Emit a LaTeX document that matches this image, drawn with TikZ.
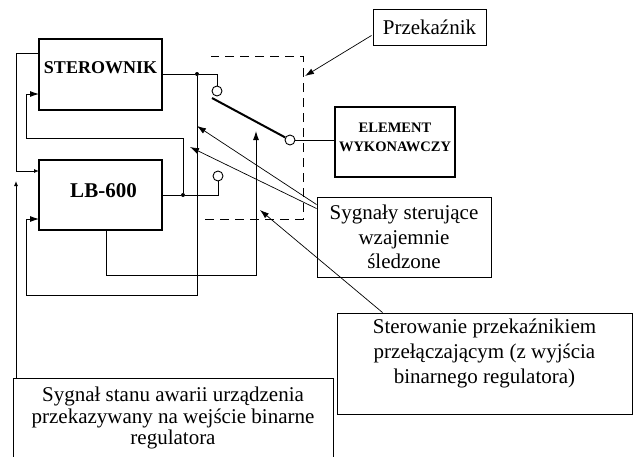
\documentclass[tikz,border=0pt]{standalone}
\usepackage{fontspec}
\usepackage{graphicx}
\setmainfont{Liberation Serif}
\usetikzlibrary{arrows.meta,calc}
\begin{document}
\begin{tikzpicture}[x=1pt,y=-1pt,
  wire/.style={line width=0.9pt},
  callout/.style={line width=0.7pt},
  heavybox/.style={draw, line width=2pt, inner sep=0pt},
  thinbox/.style={draw, line width=0.9pt, inner sep=0pt},
  txt/.style={font=\fontsize{21}{25}\selectfont, align=center, inner sep=0pt},
  contact/.style={circle, draw, line width=0.9pt, minimum size=10pt, inner sep=0pt, fill=white},
  junction/.style={circle, fill, minimum size=4pt, inner sep=0pt},
  tip/.style={-{Latex[length=9pt,width=6pt]}},
  smalltip/.style={-{Latex[length=5pt,width=4pt]}},
  relayline/.style={line width=0.9pt, dash pattern=on 9pt off 6pt},
]
\useasboundingbox (0,0) rectangle (633,456);
\clip (0,0) rectangle (633,456);

% controllers and actuator
\node[heavybox, minimum width=123pt, minimum height=71pt,
  label={[font=\bfseries\fontsize{18}{20}\selectfont, inner sep=0pt, yshift=7pt]center:STEROWNIK}]
  (ster) at (100.5,74.5) {};
\node[heavybox, minimum width=123pt, minimum height=70pt,
  label={[font=\bfseries\fontsize{21}{24}\selectfont, inner sep=0pt, xshift=3pt, yshift=4pt]center:LB-600}]
  (lb) at (100.5,195) {};
\node[heavybox, minimum width=120pt, minimum height=70pt,
  label={[font=\bfseries\fontsize{14.5}{18.5}\selectfont, align=center, inner sep=0pt, yshift=4.5pt]center:ELEMENT\\WYKONAWCZY}]
  (elem) at (395,142) {};

% description boxes
\node[thinbox, minimum width=113pt, minimum height=36pt, txt] (relay) at (429.5,27) {Przekaźnik};
\node[thinbox, minimum width=174pt, minimum height=80pt, txt, font=\fontsize{21}{24.5}\selectfont]
  (sig) at (404,237) {Sygnały sterujące\\wzajemnie\\śledzone};
\node[thinbox, minimum width=295pt, minimum height=101pt,
  label={[txt, yshift=10.5pt]center:Sterowanie przekaźnikiem\\przełączającym (z wyjścia\\binarnego regulatora)}]
  (ctl) at (484.5,363.5) {};
\node[thinbox, minimum width=320pt, minimum height=80pt, anchor=north, txt, font=\fontsize{21}{21.5}\selectfont]
  (alarm) at (173,378) {Sygnał stanu awarii urządzenia\\przekazywany na wejście binarne\\regulatora};

% relay outline
\draw[relayline] (205,219) -- (303,219) -- (303,56) -- (211,56);

% relay contacts and blade
\node[contact] (c1) at (217,91) {};
\node[contact] (c2) at (218,176) {};
\node[contact] (c3) at (290,140) {};
\coordinate (blade) at (212,98);
\draw[line width=2pt] (blade) -- (c3);
\draw[wire] (c3.east) -- (c3.east -| elem.west);

% junctions and port points
\node[junction] (j1) at (197,74) {};
\node[junction] (j2) at (183,195) {};
\coordinate (sterin) at (39,94);
\coordinate (sterout) at (39,53);
\coordinate (lbin1) at (39,171);
\coordinate (lbin2) at (39,219);
\coordinate (lbout) at (106,230);
\coordinate (coil) at (256,131);
\coordinate (alarmin) at (16,181);

% STEROWNIK output to upper contact, fed back into LB-600
\draw[wire] (ster.east |- j1) -- (j1) -| (c1.north);
\draw[wire, tip] (j1) |- (26,295) |- (lbin2);

% LB-600 output to lower contact, fed back into STEROWNIK
\draw[wire] (lb.east |- j2) -- (j2) -| (c2.south);
\draw[wire, tip] (j2) |- (26,138) |- (sterin);

% STEROWNIK status to LB-600
\draw[wire, smalltip] (sterout) -| (16,171) -- (lbin1);

% alarm signal input
\draw[wire, smalltip] (alarmin |- alarm.north) -- (alarmin);

% relay coil drive from LB-600
\draw[wire, tip] (lbout) -- (106,275) -| (coil);

% callouts
\draw[callout, tip] ($(relay.south west)+(-1,-10)$) -- (305,76);
\draw[callout, tip] ($(sig.north west)+(0,8)$) -- (197,126);
\draw[callout, tip] ($(sig.north west)+(0,12)$) -- (190,147);
\draw[callout, tip] ($(ctl.north west)+(46,0)$) -- (260,210);
\end{tikzpicture}
\end{document}
